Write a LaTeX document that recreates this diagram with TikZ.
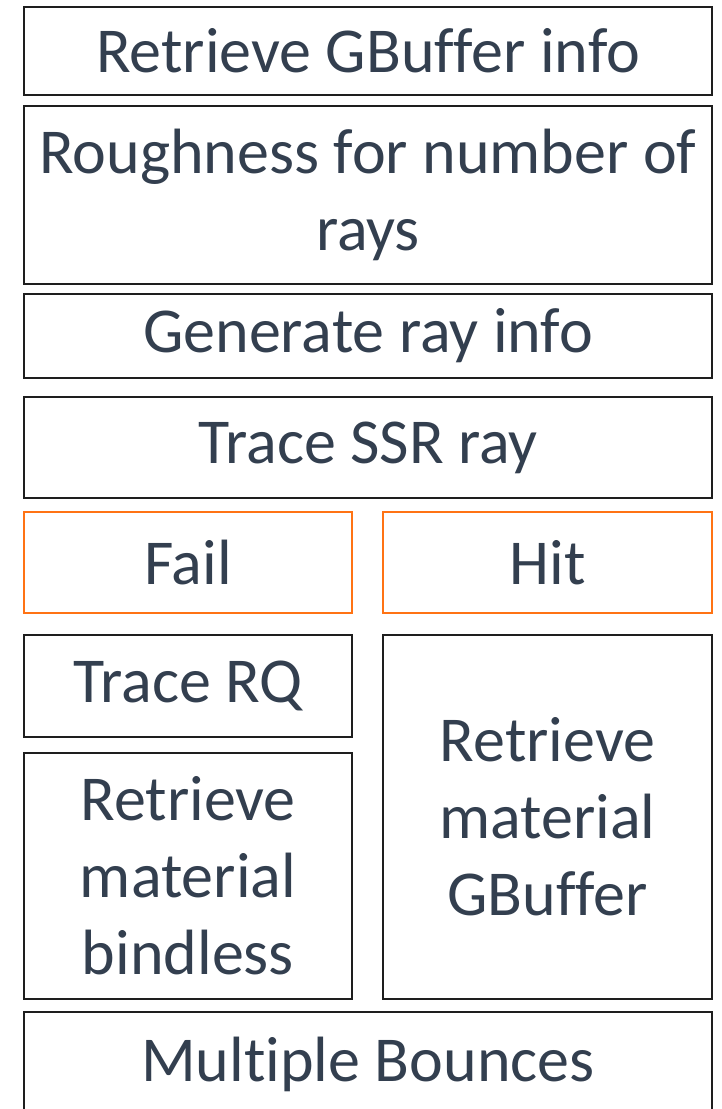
\documentclass[tikz,border=0pt]{standalone}
\usepackage{fontspec}
\setmainfont{Carlito}[Ligatures={NoCommon}]
\usepackage{tikz}
\definecolor{inktext}{HTML}{333F4F}
\definecolor{failhit}{HTML}{FF7314}
\definecolor{edge}{HTML}{1E1E1E}
\tikzset{
	stage/.style={draw=edge, line width=2pt, rectangle, inner sep=0pt, align=center, text=inktext, font=\fontsize{64}{77}\selectfont},
	branch/.style={stage, draw=failhit, line width=2.6pt}
}

\begin{document}
\begin{tikzpicture}[x=1pt, y=-1pt]
			%%%%% START %%%%%
			
			\useasboundingbox (0, 0) rectangle (722, 1109);
			\clip (0, 0) rectangle (722, 1109);
			
			\node[stage, minimum width=688pt, minimum height=88pt] (gbuf) at (368, 51) {Retrieve GBuffer info};
			\node[stage, minimum width=688pt, minimum height=178pt] (rough) at (368, 195) {Roughness for number of\\rays};
			\node[stage, minimum width=688pt, minimum height=84pt] (gen) at (368, 336) {Generate ray info};
			\node[stage, minimum width=688pt, minimum height=101pt] (ssr) at (368, 447.5) {Trace SSR ray};
			
			\node[branch, minimum width=328pt, minimum height=101pt] (fail) at (188, 562.5) {Fail};
			\node[branch, minimum width=329pt, minimum height=101pt] (hit) at (547.5, 562.5) {Hit};
			
			\node[stage, minimum width=328pt, minimum height=102pt] (rq) at (188, 686) {Trace RQ};
			\node[stage, minimum width=328pt, minimum height=246pt] (bindless) at (188, 876) {Retrieve\\material\\bindless};
			\node[stage, minimum width=329pt, minimum height=364pt] (matgbuf) at (547.5, 817) {Retrieve\\material\\GBuffer};
			
			\node[stage, minimum width=688pt, minimum height=104pt] (bounces) at (368, 1064) {Multiple Bounces};
			
			%%%%% END %%%%%
\end{tikzpicture}
\end{document}
